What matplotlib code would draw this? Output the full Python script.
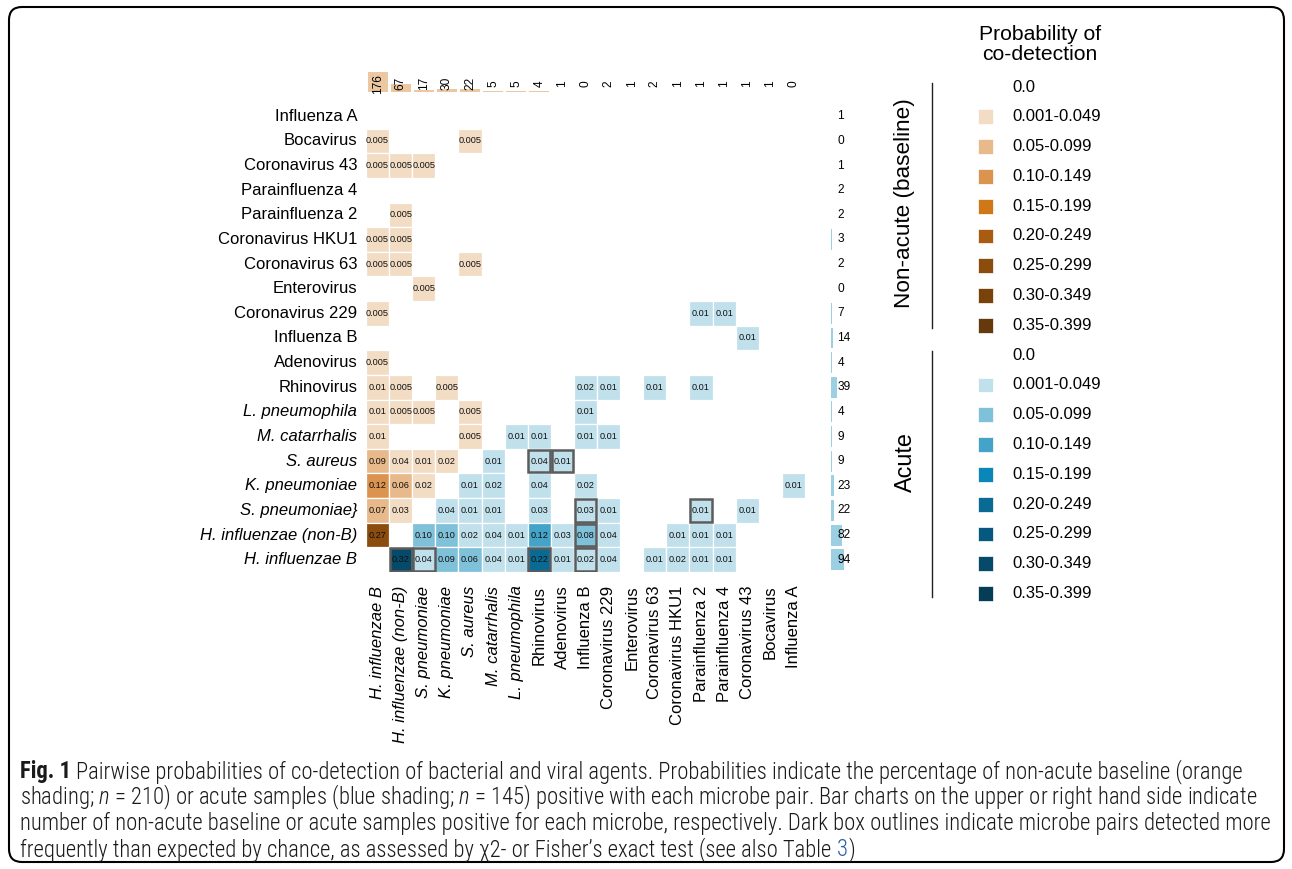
import numpy as np
import matplotlib
matplotlib.use('Agg')
import matplotlib.pyplot as plt
from matplotlib.patches import Rectangle, FancyBboxPatch
from matplotlib import font_manager

W, H = 1292, 869

cols = ['H. influenzae B', 'H. influenzae (non-B)', 'S. pneumoniae', 'K. pneumoniae',
        'S. aureus', 'M. catarrhalis', 'L. pneumophila', 'Rhinovirus', 'Adenovirus',
        'Influenza B', 'Coronavirus 229', 'Enterovirus', 'Coronavirus 63',
        'Coronavirus HKU1', 'Parainfluenza 2', 'Parainfluenza 4', 'Coronavirus 43',
        'Bocavirus', 'Influenza A']
rows = cols[::-1]
row_labels = [r if r != 'S. pneumoniae' else 'S. pneumoniae}' for r in rows]
bacteria = ['H. influenzae B', 'H. influenzae (non-B)', 'S. pneumoniae', 'K. pneumoniae',
            'S. aureus', 'M. catarrhalis', 'L. pneumophila']

# samples positive per microbe: non-acute (top bars, by column), acute (right bars, by row)
n_nonacute = 210
n_acute = 145
nonacute_counts = [176, 67, 17, 30, 22, 5, 5, 4, 1, 0, 2, 1, 2, 1, 1, 1, 1, 1, 0]
acute_counts = [1, 0, 1, 2, 2, 3, 2, 0, 7, 14, 4, 39, 4, 9, 9, 23, 22, 82, 94]

# (row microbe, column microbe, probability)
nonacute_pairs = [
    ('Bocavirus', 'H. influenzae B', 0.005), ('Bocavirus', 'S. aureus', 0.005),
    ('Coronavirus 43', 'H. influenzae B', 0.005), ('Coronavirus 43', 'H. influenzae (non-B)', 0.005),
    ('Coronavirus 43', 'S. pneumoniae', 0.005),
    ('Parainfluenza 2', 'H. influenzae (non-B)', 0.005),
    ('Coronavirus HKU1', 'H. influenzae B', 0.005), ('Coronavirus HKU1', 'H. influenzae (non-B)', 0.005),
    ('Coronavirus 63', 'H. influenzae B', 0.005), ('Coronavirus 63', 'H. influenzae (non-B)', 0.005),
    ('Coronavirus 63', 'S. aureus', 0.005),
    ('Enterovirus', 'S. pneumoniae', 0.005),
    ('Coronavirus 229', 'H. influenzae B', 0.005),
    ('Adenovirus', 'H. influenzae B', 0.005),
    ('Rhinovirus', 'H. influenzae B', 0.01), ('Rhinovirus', 'H. influenzae (non-B)', 0.005),
    ('Rhinovirus', 'K. pneumoniae', 0.005),
    ('L. pneumophila', 'H. influenzae B', 0.01), ('L. pneumophila', 'H. influenzae (non-B)', 0.005),
    ('L. pneumophila', 'S. pneumoniae', 0.005), ('L. pneumophila', 'S. aureus', 0.005),
    ('M. catarrhalis', 'H. influenzae B', 0.01), ('M. catarrhalis', 'S. aureus', 0.005),
    ('S. aureus', 'H. influenzae B', 0.09), ('S. aureus', 'H. influenzae (non-B)', 0.04),
    ('S. aureus', 'S. pneumoniae', 0.01), ('S. aureus', 'K. pneumoniae', 0.02),
    ('K. pneumoniae', 'H. influenzae B', 0.12), ('K. pneumoniae', 'H. influenzae (non-B)', 0.06),
    ('K. pneumoniae', 'S. pneumoniae', 0.02),
    ('S. pneumoniae', 'H. influenzae B', 0.07), ('S. pneumoniae', 'H. influenzae (non-B)', 0.03),
    ('H. influenzae (non-B)', 'H. influenzae B', 0.27),
]

acute_pairs = [
    ('Coronavirus 229', 'Parainfluenza 2', 0.01), ('Coronavirus 229', 'Parainfluenza 4', 0.01),
    ('Influenza B', 'Coronavirus 43', 0.01),
    ('Rhinovirus', 'Influenza B', 0.02), ('Rhinovirus', 'Coronavirus 229', 0.01),
    ('Rhinovirus', 'Coronavirus 63', 0.01), ('Rhinovirus', 'Parainfluenza 2', 0.01),
    ('L. pneumophila', 'Influenza B', 0.01),
    ('M. catarrhalis', 'L. pneumophila', 0.01), ('M. catarrhalis', 'Rhinovirus', 0.01),
    ('M. catarrhalis', 'Influenza B', 0.01), ('M. catarrhalis', 'Coronavirus 229', 0.01),
    ('S. aureus', 'M. catarrhalis', 0.01), ('S. aureus', 'Rhinovirus', 0.04),
    ('S. aureus', 'Adenovirus', 0.01),
    ('K. pneumoniae', 'S. aureus', 0.01), ('K. pneumoniae', 'M. catarrhalis', 0.02),
    ('K. pneumoniae', 'Rhinovirus', 0.04), ('K. pneumoniae', 'Influenza B', 0.02),
    ('K. pneumoniae', 'Influenza A', 0.01),
    ('S. pneumoniae', 'K. pneumoniae', 0.04), ('S. pneumoniae', 'S. aureus', 0.01),
    ('S. pneumoniae', 'M. catarrhalis', 0.01), ('S. pneumoniae', 'Rhinovirus', 0.03),
    ('S. pneumoniae', 'Influenza B', 0.03), ('S. pneumoniae', 'Coronavirus 229', 0.01),
    ('S. pneumoniae', 'Parainfluenza 2', 0.01), ('S. pneumoniae', 'Coronavirus 43', 0.01),
    ('H. influenzae (non-B)', 'S. pneumoniae', 0.097), ('H. influenzae (non-B)', 'K. pneumoniae', 0.097),
    ('H. influenzae (non-B)', 'S. aureus', 0.02), ('H. influenzae (non-B)', 'M. catarrhalis', 0.04),
    ('H. influenzae (non-B)', 'L. pneumophila', 0.01), ('H. influenzae (non-B)', 'Rhinovirus', 0.12),
    ('H. influenzae (non-B)', 'Adenovirus', 0.03), ('H. influenzae (non-B)', 'Influenza B', 0.08),
    ('H. influenzae (non-B)', 'Coronavirus 229', 0.04), ('H. influenzae (non-B)', 'Coronavirus HKU1', 0.01),
    ('H. influenzae (non-B)', 'Parainfluenza 2', 0.01), ('H. influenzae (non-B)', 'Parainfluenza 4', 0.01),
    ('H. influenzae B', 'H. influenzae (non-B)', 0.32), ('H. influenzae B', 'S. pneumoniae', 0.04),
    ('H. influenzae B', 'K. pneumoniae', 0.09), ('H. influenzae B', 'S. aureus', 0.06),
    ('H. influenzae B', 'M. catarrhalis', 0.04), ('H. influenzae B', 'L. pneumophila', 0.01),
    ('H. influenzae B', 'Rhinovirus', 0.22), ('H. influenzae B', 'Adenovirus', 0.01),
    ('H. influenzae B', 'Influenza B', 0.02), ('H. influenzae B', 'Coronavirus 229', 0.04),
    ('H. influenzae B', 'Coronavirus 63', 0.01), ('H. influenzae B', 'Coronavirus HKU1', 0.02),
    ('H. influenzae B', 'Parainfluenza 2', 0.01), ('H. influenzae B', 'Parainfluenza 4', 0.01),
]

# pairs detected more often than expected by chance
significant = [
    ('S. aureus', 'Rhinovirus'), ('S. aureus', 'Adenovirus'),
    ('S. pneumoniae', 'Influenza B'), ('S. pneumoniae', 'Parainfluenza 2'),
    ('H. influenzae (non-B)', 'Influenza B'),
    ('H. influenzae B', 'H. influenzae (non-B)'), ('H. influenzae B', 'S. pneumoniae'),
    ('H. influenzae B', 'Rhinovirus'), ('H. influenzae B', 'Influenza B'),
]

bin_edges = [0.001, 0.05, 0.10, 0.15, 0.20, 0.25, 0.30, 0.35, 0.40]
bin_labels = ['0.001-0.049', '0.05-0.099', '0.10-0.149', '0.15-0.199', '0.20-0.249',
              '0.25-0.299', '0.30-0.349', '0.35-0.399']
orange = ['#f2dcc3', '#e8b98a', '#db9450', '#cf7818', '#a95b12', '#8c4c0e', '#7a420b', '#65390c']
blue = ['#c0e0ec', '#80c1da', '#43a3c9', '#0a86b9', '#096b94', '#07587e', '#064a69', '#053d57']

plt.rcParams['font.family'] = ['Liberation Sans', 'DejaVu Sans']


def pick_font(candidates):
    names = {f.name for f in font_manager.fontManager.ttflist}
    for c in candidates:
        if c in names:
            return c
    return 'Liberation Sans'


def fmt(v):
    return '%.3f' % v if v < 0.0075 else '%.2f' % v


fig = plt.figure(figsize=(W / 100, H / 100), dpi=100)


def frac(x0, y0, x1, y1):
    # pixel box (top-left origin) -> figure fraction rect
    return [x0 / W, 1 - y1 / H, (x1 - x0) / W, (y1 - y0) / H]


# outer frame
frame = FancyBboxPatch((0.09, 0.07), 12.75, 8.55, boxstyle='round,pad=0,rounding_size=0.13',
                       transform=fig.dpi_scale_trans, fill=False, lw=1.5, ec='black')
fig.patches.append(frame)

ax = fig.add_axes(frac(366, 104, 805, 572))
ax.set_xlim(-0.5, 18.5)
ax.set_ylim(18.5, -0.5)
ax.set_axis_off()


def draw_cells(pairs, palette):
    for rname, cname, v in pairs:
        r = rows.index(rname)
        c = cols.index(cname)
        k = np.digitize(v, bin_edges) - 1
        ax.add_patch(Rectangle((c - 0.5, r - 0.5), 1, 1, fc=palette[k], ec='white', lw=0.9))
        ax.text(c, r, fmt(v), ha='center', va='center', fontsize=6.6, color='#111111')


draw_cells(nonacute_pairs, orange)
draw_cells(acute_pairs, blue)

for rname, cname in significant:
    r = rows.index(rname)
    c = cols.index(cname)
    ax.add_patch(Rectangle((c - 0.47, r - 0.46), 0.94, 0.92, fill=False, ec='#5c5c5c', lw=1.8))

# row and column labels
for r, lab in enumerate(row_labels):
    style = 'italic' if rows[r] in bacteria else 'normal'
    ax.text(-0.88, r, lab, ha='right', va='center', fontsize=12, style=style, clip_on=False)
for c, lab in enumerate(cols):
    style = 'italic' if lab in bacteria else 'normal'
    ax.text(c, 19.05, lab, ha='center', va='top', rotation=90, fontsize=12, style=style,
            clip_on=False)

# bar chart above: non-acute counts
top_h = np.array(nonacute_counts) / n_nonacute * 0.97
ax.bar(range(len(cols)), -top_h, bottom=-0.99, width=0.87, color='#ebc8a2', clip_on=False)
for c, n in enumerate(nonacute_counts):
    ax.text(c, -1.32, str(n), ha='center', va='center', rotation=90, fontsize=8.6, clip_on=False)

# bar chart on the right: acute counts
right_w = np.array(acute_counts) / n_acute * 0.87
ax.barh(range(len(rows)), right_w, left=19.63, height=0.85, color='#9ccfe2', clip_on=False)
for r, n in enumerate(acute_counts):
    ax.text(19.9, r, str(n), ha='left', va='center', fontsize=8.6, clip_on=False)

# legend
lax = fig.add_axes(frac(880, 72.1, 1180, 608.5))
lax.set_xlim(880, 1180)
lax.set_ylim(17.5, -0.5)
lax.set_axis_off()
groups = [('Non-acute (baseline)', orange, 3.9, 16.2), ('Acute', blue, 12.6, 16.8)]
i = 0
for gname, palette, gy, gsize in groups:
    start = i
    lax.text(1012, i, '0.0', ha='left', va='center', fontsize=12)
    i += 1
    for col, lab in zip(palette, bin_labels):
        lax.add_patch(Rectangle((978, i - 0.25), 15, 0.5, fc=col, ec='white', lw=0.5))
        lax.text(1012, i, lab, ha='left', va='center', fontsize=12)
        i += 1
    lax.plot([932, 932], [start - 0.13, i - 1 + 0.1], color='#222222', lw=1)
    lax.text(905, gy, gname, rotation=90, ha='center', va='center', fontsize=gsize)
fig.text(1040 / W, 1 - 44.5 / H, 'Probability of\nco-detection', ha='center', va='center',
         fontsize=15.2, linespacing=1.08)

# caption
capfont = pick_font(['Liberation Sans Narrow', 'Roboto Condensed', 'Open Sans Condensed',
                     'DejaVu Sans Condensed', 'Liberation Sans'])
plt.rcParams['mathtext.fontset'] = 'custom'
plt.rcParams['mathtext.rm'] = capfont + ':light'
plt.rcParams['mathtext.it'] = capfont + ':italic:light'
plt.rcParams['mathtext.bf'] = capfont + ':bold'

cap_head = 'Fig. 1'
cap_lines = [
    'Pairwise probabilities of co-detection of bacterial and viral agents. '
    'Probabilities indicate the percentage of non-acute baseline (orange',
    r'shading; $n$ = 210) or acute samples (blue shading; $n$ = 145) positive with each microbe '
    r'pair. Bar charts on the upper or right hand side indicate',
    'number of non-acute baseline or acute samples positive for each microbe, respectively. '
    'Dark box outlines indicate microbe pairs detected more',
    'frequently than expected by chance, as assessed by \u03c72- or Fisher\u2019s exact test '
    '(see also Table ',
]
cap_y = [778, 804, 830, 856]
cap_x = 20
renderer = fig.canvas.get_renderer()
fam = [capfont, 'DejaVu Sans']
cap_kw = dict(family=fam, va='baseline', color='#1a1a1a', weight='light')

head = fig.text(cap_x / W, 1 - cap_y[0] / H, cap_head, fontsize=12, family=fam,
                va='baseline', weight='bold', color='#1a1a1a')
probe = fig.text(0, 0.5, cap_lines[0], fontsize=12, **cap_kw)
wpx = head.get_window_extent(renderer).width + probe.get_window_extent(renderer).width + 4
probe.remove()
cap_size = 12 * (1222 / wpx)
head.set_fontsize(cap_size)
head_x1 = head.get_window_extent(renderer).x1 + cap_size * 0.3

for k, (line, y) in enumerate(zip(cap_lines, cap_y)):
    x = head_x1 if k == 0 else cap_x
    fig.text(x / W, 1 - y / H, line, fontsize=cap_size, **cap_kw)
full = fig.text(cap_x / W, 1 - cap_y[3] / H, cap_lines[3] + '3', fontsize=cap_size, alpha=0,
                **{k: v for k, v in cap_kw.items() if k != 'color'})
x_end = full.get_window_extent(renderer).x1
fig.text(x_end / W, 1 - cap_y[3] / H, '3', fontsize=cap_size, family=fam, va='baseline',
         ha='right', color='#2a5db0', weight='light')
fig.text((x_end + 1) / W, 1 - cap_y[3] / H, ')', fontsize=cap_size, **cap_kw)

fig.savefig('out.png', dpi=100)
